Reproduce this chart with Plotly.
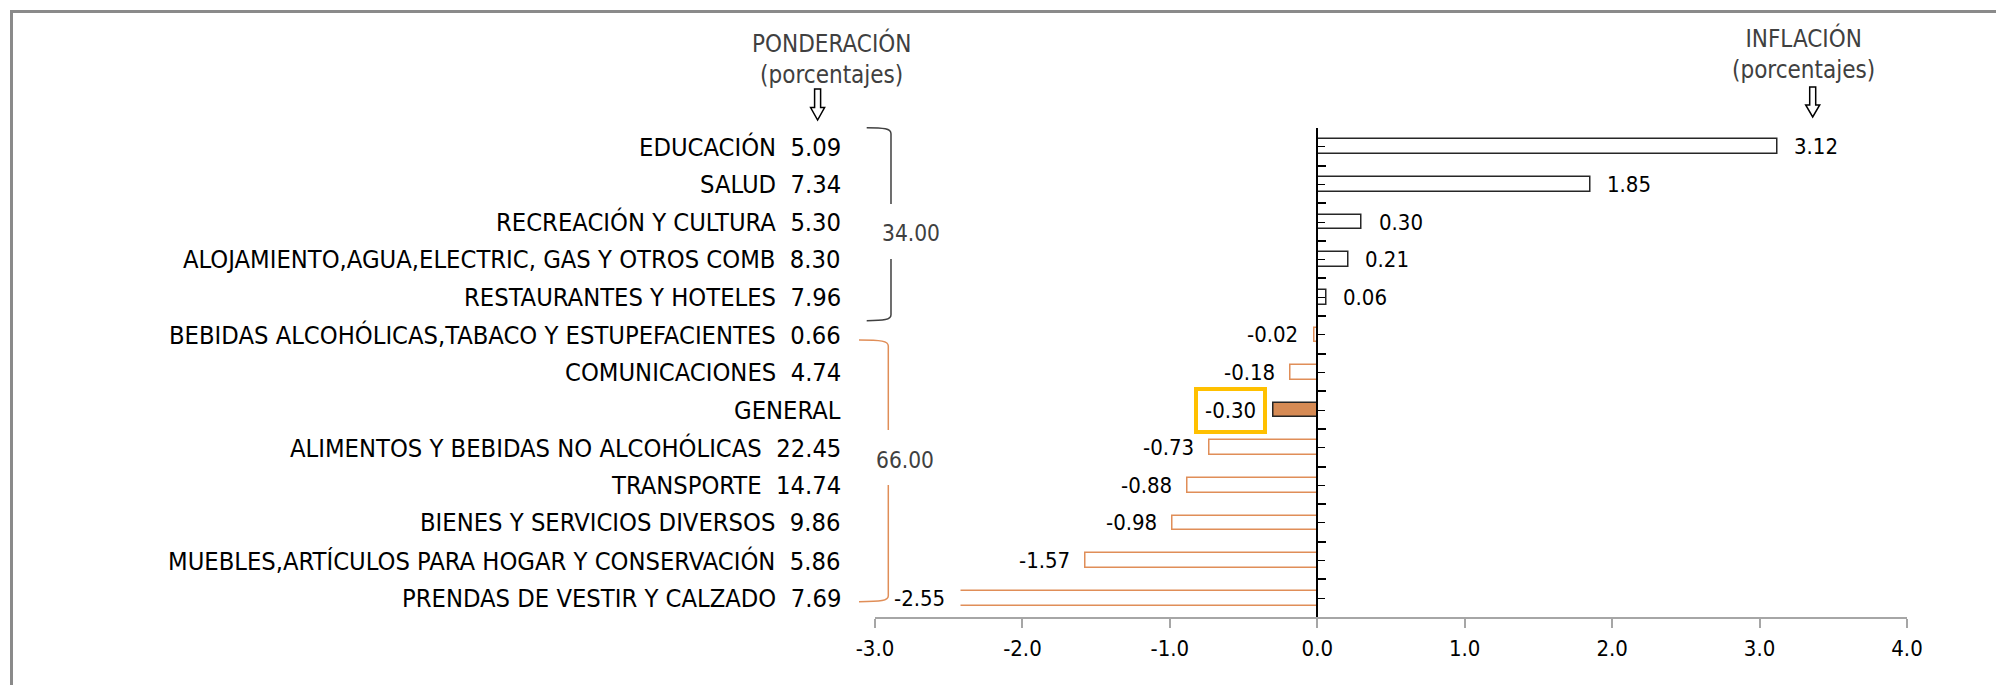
import plotly.graph_objects as go

# ---------------- data ----------------
categories = [
    "EDUCACIÓN",
    "SALUD",
    "RECREACIÓN Y CULTURA",
    "ALOJAMIENTO,AGUA,ELECTRIC, GAS Y OTROS COMB",
    "RESTAURANTES Y HOTELES",
    "BEBIDAS ALCOHÓLICAS,TABACO Y ESTUPEFACIENTES",
    "COMUNICACIONES",
    "GENERAL",
    "ALIMENTOS Y BEBIDAS NO ALCOHÓLICAS",
    "TRANSPORTE",
    "BIENES Y SERVICIOS DIVERSOS",
    "MUEBLES,ARTÍCULOS PARA HOGAR Y CONSERVACIÓN",
    "PRENDAS DE VESTIR Y CALZADO",
]
weights = [5.09, 7.34, 5.30, 8.30, 7.96, 0.66, 4.74, None, 22.45, 14.74, 9.86, 5.86, 7.69]
inflation = [3.12, 1.85, 0.30, 0.21, 0.06, -0.02, -0.18, -0.30, -0.73, -0.88, -0.98, -1.57, -2.55]
group_totals = [34.00, 66.00]
x_ticks = [-3, -2, -1, 0, 1, 2, 3, 4]
x_ticklabels = ["-3.0", "-2.0", "-1.0", "0.0", "1.0", "2.0", "3.0", "4.0"]
x_range = [-3, 4]
bar_axis_min = -2.42   # the bars are clipped here in the original chart
highlight = "GENERAL"

# ---------------- style ----------------
FONT = "DejaVu Sans Condensed, Liberation Sans Narrow, Arial Narrow, sans-serif"
ORANGE = "#E08E58"
ORANGE_FILL = "#D68B55"
DARK = "#262626"
GREY_TXT = "#404040"
W, H = 1996, 685
ML, MR, MT, MB = 875, 89, 128, 68
PW, PH = W - ML - MR, H - MT - MB


def px(x):
    return (x - ML) / PW


def py(y):
    return (H - MB - y) / PH


span = x_range[1] - x_range[0]
zero_pos = (0 - x_range[0]) / span
bar_dom0 = (bar_axis_min - x_range[0]) / span

fill_colors, line_colors = [], []
for c, v in zip(categories, inflation):
    if c == highlight:
        fill_colors.append(ORANGE_FILL)
        line_colors.append(DARK)
    elif v >= 0:
        fill_colors.append("white")
        line_colors.append(DARK)
    else:
        fill_colors.append("white")
        line_colors.append(ORANGE)

fig = go.Figure()
fig.add_trace(go.Bar(
    x=inflation, y=categories, orientation="h",
    marker=dict(color=fill_colors, line=dict(color=line_colors, width=1.5)),
    width=0.39, showlegend=False, hoverinfo="x+y",
))
# helper trace for the display x axis and the centre ticks on the overlay y axis
fig.add_trace(go.Scatter(x=[None], y=[None], xaxis="x2", yaxis="y2",
                         showlegend=False, hoverinfo="skip"))

annotations = []
# left category labels with weights
for c, w in zip(categories, weights):
    txt = c if w is None else f"{c}\u00a0\u00a0{w:.2f}"
    annotations.append(dict(
        x=px(843), xref="paper", y=c, yref="y", text=txt, showarrow=False,
        xanchor="right", yanchor="middle", font=dict(family=FONT, size=25.3, color="black"),
    ))
# value labels
for c, v in zip(categories, inflation):
    xv = max(v, bar_axis_min)
    if c == highlight:
        annotations.append(dict(
            x=xv, xref="x", y=c, yref="y", text=f"{v:.2f}", showarrow=False,
            xanchor="right", yanchor="middle", xshift=-6,
            font=dict(family=FONT, size=22, color="black"),
            bordercolor="#FFC000", borderwidth=4, borderpad=7, bgcolor="white",
        ))
    else:
        annotations.append(dict(
            x=xv, xref="x", y=c, yref="y", text=f"{v:.2f}", showarrow=False,
            xanchor="left" if v >= 0 else "right", yanchor="middle",
            xshift=15 if v >= 0 else -14,
            font=dict(family=FONT, size=22, color="black"),
        ))
# group totals
annotations.append(dict(x=px(911), y=py(233), xref="paper", yref="paper",
                        xanchor="center", yanchor="middle",
                        text=f"{group_totals[0]:.2f}", showarrow=False,
                        font=dict(family=FONT, size=22.5, color=GREY_TXT)))
annotations.append(dict(x=px(905), y=py(460), xref="paper", yref="paper",
                        xanchor="center", yanchor="middle",
                        text=f"{group_totals[1]:.2f}", showarrow=False,
                        font=dict(family=FONT, size=22.5, color=GREY_TXT)))
# headers
annotations.append(dict(x=px(831), y=py(58), xref="paper", yref="paper",
                        xanchor="center", yanchor="middle",
                        text="PONDERACIÓN<br>(porcentajes)", showarrow=False,
                        font=dict(family=FONT, size=24, color=GREY_TXT)))
annotations.append(dict(x=px(1803), y=py(53), xref="paper", yref="paper",
                        xanchor="center", yanchor="middle",
                        text="INFLACIÓN<br>(porcentajes)", showarrow=False,
                        font=dict(family=FONT, size=24, color=GREY_TXT)))


def P(x, y):
    return f"{px(x):.5f},{py(y):.5f}"


def arrow_path(cx, top, bottom):
    neck = top + (bottom - top) * 0.6
    return ("M " + P(cx - 3, top) + " L " + P(cx + 3, top) + " L " + P(cx + 3, neck) +
            " L " + P(cx + 7, neck) + " L " + P(cx, bottom) + " L " + P(cx - 7, neck) +
            " L " + P(cx - 3, neck) + " Z")


def bracket_path(x0, x1, top, gap0, gap1, bottom):
    return ("M " + P(x0, top) + " C " + P(x1 - 7, top) + " " + P(x1, top + 1) + " " + P(x1, top + 6) +
            " L " + P(x1, gap0) + " M " + P(x1, gap1) + " L " + P(x1, bottom - 6) +
            " C " + P(x1, bottom - 1) + " " + P(x1 - 7, bottom) + " " + P(x0, bottom))


shapes = [
    dict(type="path", xref="paper", yref="paper", path=arrow_path(817.6, 89, 120),
         line=dict(color="black", width=1.5), fillcolor="white"),
    dict(type="path", xref="paper", yref="paper", path=arrow_path(1812.7, 87, 117),
         line=dict(color="black", width=1.5), fillcolor="white"),
    dict(type="path", xref="paper", yref="paper",
         path=bracket_path(866.7, 891, 127.7, 204, 259, 320.7),
         line=dict(color=GREY_TXT, width=1.5)),
    dict(type="path", xref="paper", yref="paper",
         path=bracket_path(859, 888.3, 340, 430, 485, 601.7),
         line=dict(color=ORANGE, width=1.5)),
    # frame
    dict(type="line", xref="paper", yref="paper", x0=px(10), x1=px(W + 5), y0=py(11.5), y1=py(11.5),
         line=dict(color="#8A8A8A", width=3)),
    dict(type="line", xref="paper", yref="paper", x0=px(11.5), x1=px(11.5), y0=py(10), y1=py(H + 5),
         line=dict(color="#8A8A8A", width=3)),
]

n = len(categories)
fig.update_layout(
    width=W, height=H,
    margin=dict(l=ML, r=MR, t=MT, b=MB, autoexpand=False),
    paper_bgcolor="white", plot_bgcolor="rgba(0,0,0,0)",
    font=dict(family=FONT, size=22, color="black"),
    xaxis=dict(
        domain=[bar_dom0, 1], range=[bar_axis_min, x_range[1]], anchor="y",
        visible=False, showgrid=False, zeroline=False,
    ),
    xaxis2=dict(
        domain=[0, 1], range=x_range, anchor="y2",
        tickvals=x_ticks, ticktext=x_ticklabels,
        showgrid=False, zeroline=False, showline=True, linecolor="#A6A6A6", linewidth=2,
        ticks="outside", ticklen=9, tickwidth=1.5, tickcolor="#A6A6A6",
        ticklabelstandoff=2,
        tickfont=dict(family=FONT, size=22, color="black"),
    ),
    yaxis=dict(
        type="category", categoryorder="array", categoryarray=categories,
        range=[n - 0.5, -0.5], anchor="free", position=zero_pos,
        showgrid=False, zeroline=False, showline=True, linecolor="black", linewidth=1.5,
        ticks="inside", tickson="boundaries", ticklen=8, tickwidth=1.5, tickcolor="black",
        showticklabels=False,
    ),
    yaxis2=dict(
        overlaying="y", anchor="free", position=zero_pos, range=[n - 0.5, -0.5],
        tickvals=list(range(n)), ticks="inside", ticklen=7, tickwidth=1.2, tickcolor="black",
        showticklabels=False, showline=False, showgrid=False, zeroline=False,
    ),
    annotations=annotations,
    shapes=shapes,
    bargap=0,
)

fig.write_html(
    "out.html",
    config={"displayModeBar": False},
    post_script="document.body.style.margin='0';document.body.style.overflow='hidden';",
)
